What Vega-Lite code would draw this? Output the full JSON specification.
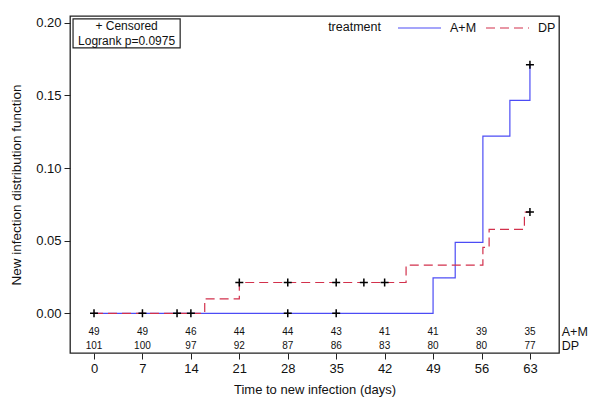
{
  "$schema": "https://vega.github.io/schema/vega-lite/v6.json",
  "width": 489,
  "height": 337,
  "autosize": {"type": "none"},
  "padding": {"left": 70, "top": 16, "right": 41, "bottom": 56},
  "background": "white",
  "config": {
    "font": "Liberation Sans",
    "view": {"stroke": "#222222", "strokeWidth": 1.3},
    "axis": {
      "grid": false,
      "domain": false,
      "tickColor": "#222222",
      "tickSize": 6,
      "labelFont": "Liberation Sans",
      "labelFontSize": 13,
      "labelColor": "#111111",
      "titleFont": "Liberation Sans",
      "titleFontSize": 13,
      "titleFontWeight": "normal",
      "titleColor": "#111111"
    },
    "legend": {
      "orient": "none",
      "legendX": 327,
      "legendY": -10.5,
      "direction": "horizontal",
      "symbolType": "stroke",
      "symbolSize": 1849,
      "symbolStrokeWidth": 1.2,
      "labelFont": "Liberation Sans",
      "labelFontSize": 12.5,
      "labelColor": "#111111",
      "labelOffset": 8,
      "columnPadding": 6,
      "padding": 0
    }
  },
  "datasets": {
    "curves": [
      {"treatment": "A+M", "day": 0, "cif": 0},
      {"treatment": "A+M", "day": 49, "cif": 0.0244},
      {"treatment": "A+M", "day": 52.2, "cif": 0.0488},
      {"treatment": "A+M", "day": 56.2, "cif": 0.122},
      {"treatment": "A+M", "day": 60.1, "cif": 0.1466},
      {"treatment": "A+M", "day": 63, "cif": 0.171},
      {"treatment": "DP", "day": 0, "cif": 0},
      {"treatment": "DP", "day": 16, "cif": 0.0099},
      {"treatment": "DP", "day": 21, "cif": 0.0212},
      {"treatment": "DP", "day": 45.1, "cif": 0.0332},
      {"treatment": "DP", "day": 56.2, "cif": 0.0454},
      {"treatment": "DP", "day": 57.1, "cif": 0.0578},
      {"treatment": "DP", "day": 62.2, "cif": 0.0697},
      {"treatment": "DP", "day": 63, "cif": 0.0697}
    ],
    "censor": [
      {"day": 0, "cif": 0},
      {"day": 7, "cif": 0},
      {"day": 12, "cif": 0},
      {"day": 14, "cif": 0},
      {"day": 28, "cif": 0},
      {"day": 35, "cif": 0},
      {"day": 21, "cif": 0.0212},
      {"day": 28, "cif": 0.0212},
      {"day": 35, "cif": 0.0212},
      {"day": 39, "cif": 0.0212},
      {"day": 42, "cif": 0.0212},
      {"day": 63, "cif": 0.171},
      {"day": 63, "cif": 0.0697}
    ],
    "atrisk": [
      {"treatment": "A+M", "day": 0, "n": 49},
      {"treatment": "A+M", "day": 7, "n": 49},
      {"treatment": "A+M", "day": 14, "n": 46},
      {"treatment": "A+M", "day": 21, "n": 44},
      {"treatment": "A+M", "day": 28, "n": 44},
      {"treatment": "A+M", "day": 35, "n": 43},
      {"treatment": "A+M", "day": 42, "n": 41},
      {"treatment": "A+M", "day": 49, "n": 41},
      {"treatment": "A+M", "day": 56, "n": 39},
      {"treatment": "A+M", "day": 63, "n": 35},
      {"treatment": "DP", "day": 0, "n": 101},
      {"treatment": "DP", "day": 7, "n": 100},
      {"treatment": "DP", "day": 14, "n": 97},
      {"treatment": "DP", "day": 21, "n": 92},
      {"treatment": "DP", "day": 28, "n": 87},
      {"treatment": "DP", "day": 35, "n": 86},
      {"treatment": "DP", "day": 42, "n": 83},
      {"treatment": "DP", "day": 49, "n": 80},
      {"treatment": "DP", "day": 56, "n": 80},
      {"treatment": "DP", "day": 63, "n": 77}
    ],
    "note": [
      {"line": "+ Censored", "order": 1},
      {"line": "Logrank p=0.0975", "order": 2}
    ]
  },
  "layer": [
    {
      "data": {"name": "curves"},
      "mark": {"type": "line", "interpolate": "step-after", "strokeWidth": 1.2, "clip": true},
      "encoding": {
        "x": {
          "field": "day",
          "type": "quantitative",
          "scale": {"domain": [-3.47, 67.2], "nice": false, "zero": false},
          "axis": {"values": [0, 7, 14, 21, 28, 35, 42, 49, 56, 63], "title": "Time to new infection (days)", "labelPadding": 3, "titlePadding": 8}
        },
        "y": {
          "field": "cif",
          "type": "quantitative",
          "scale": {"domain": [-0.0273, 0.2046], "nice": false, "zero": false},
          "axis": {"values": [0, 0.05, 0.1, 0.15, 0.2], "format": ".2f", "title": "New infection distribution function", "labelPadding": 3, "titlePadding": 12, "titleFontSize": 13.5}
        },
        "color": {
          "field": "treatment",
          "type": "nominal",
          "title": null,
          "scale": {"domain": ["A+M", "DP"], "range": ["#4c4cf5", "#d2314c"]}
        },
        "strokeDash": {
          "field": "treatment",
          "type": "nominal",
          "title": null,
          "scale": {"domain": ["A+M", "DP"], "range": [[1, 0], [9, 5]]}
        }
      }
    },
    {
      "data": {"name": "censor"},
      "mark": {"type": "point", "shape": "M -1 0 L 1 0 M 0 -1 L 0 1", "filled": false, "stroke": "#000000", "strokeWidth": 1.5, "size": 64, "opacity": 1},
      "encoding": {
        "x": {"field": "day", "type": "quantitative"},
        "y": {"field": "cif", "type": "quantitative"}
      }
    },
    {
      "data": {"name": "atrisk"},
      "transform": [{"filter": "datum.treatment === 'A+M'"}],
      "mark": {"type": "text", "fontSize": 10, "color": "#111111", "baseline": "middle", "align": "center"},
      "encoding": {
        "x": {"field": "day", "type": "quantitative"},
        "y": {"datum": -0.0129},
        "text": {"field": "n", "type": "quantitative"}
      }
    },
    {
      "data": {"name": "atrisk"},
      "transform": [{"filter": "datum.treatment === 'DP'"}],
      "mark": {"type": "text", "fontSize": 10, "color": "#111111", "baseline": "middle", "align": "center"},
      "encoding": {
        "x": {"field": "day", "type": "quantitative"},
        "y": {"datum": -0.0225},
        "text": {"field": "n", "type": "quantitative"}
      }
    },
    {
      "data": {"values": [{"label": "A+M"}]},
      "mark": {"type": "text", "fontSize": 12.5, "color": "#111111", "baseline": "middle", "align": "left"},
      "encoding": {
        "x": {"datum": 67.6},
        "y": {"datum": -0.0129},
        "text": {"field": "label"}
      }
    },
    {
      "data": {"values": [{"label": "DP"}]},
      "mark": {"type": "text", "fontSize": 12.5, "color": "#111111", "baseline": "middle", "align": "left"},
      "encoding": {
        "x": {"datum": 67.6},
        "y": {"datum": -0.0225},
        "text": {"field": "label"}
      }
    },
    {
      "data": {"values": [{"label": "treatment"}]},
      "mark": {"type": "text", "fontSize": 12.5, "color": "#111111", "baseline": "middle", "align": "right"},
      "encoding": {
        "x": {"datum": 41.47},
        "y": {"datum": 0.197},
        "text": {"field": "label"}
      }
    },
    {
      "data": {"values": [{}]},
      "mark": {"type": "rect", "fill": "white", "stroke": "#222222", "strokeWidth": 1.2},
      "encoding": {
        "x": {"datum": -3.03},
        "x2": {"datum": 12.45},
        "y": {"datum": 0.2026},
        "y2": {"datum": 0.1826}
      }
    },
    {
      "data": {"name": "note"},
      "transform": [{"filter": "datum.order === 1"}],
      "mark": {"type": "text", "fontSize": 12, "color": "#111111", "baseline": "middle", "align": "center"},
      "encoding": {
        "x": {"datum": 4.71},
        "y": {"datum": 0.1975},
        "text": {"field": "line"}
      }
    },
    {
      "data": {"name": "note"},
      "transform": [{"filter": "datum.order === 2"}],
      "mark": {"type": "text", "fontSize": 12, "color": "#111111", "baseline": "middle", "align": "center"},
      "encoding": {
        "x": {"datum": 4.71},
        "y": {"datum": 0.1876},
        "text": {"field": "line"}
      }
    }
  ]
}
